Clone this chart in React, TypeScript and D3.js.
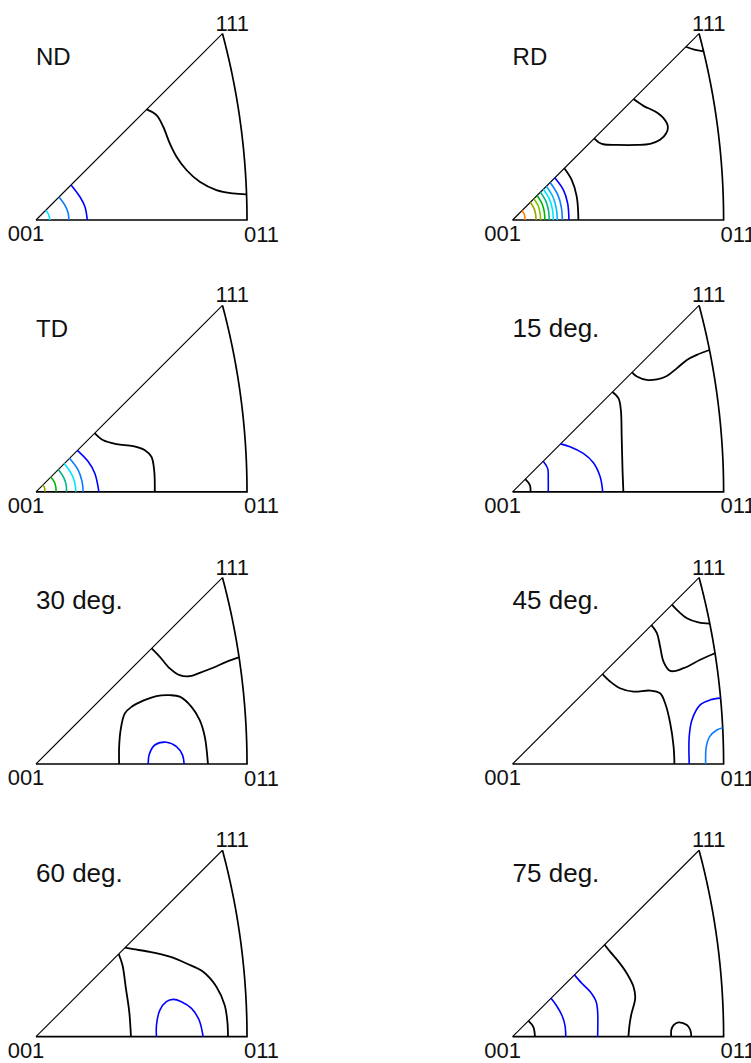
import React from "react";
import * as d3 from "d3";

// Inverse pole figures (cubic standard triangle, stereographic projection).
// Contour coordinates are given in the projection plane, in percent of the
// 001–011 distance (x toward 011, y toward 111).

type Pt = [number, number];
type Contour = { level: number; pts: Pt[] };

const panelTitles = ["ND", "RD", "TD", "15 deg.", "30 deg.", "45 deg.", "60 deg.", "75 deg."];
const poleLabels = ["001", "011", "111"];

// contour level colours, lowest level first
const levelColors = [
  "#000000",
  "#0000ff",
  "#0a7cff",
  "#00b4ff",
  "#00e6ff",
  "#00b48c",
  "#00b400",
  "#78c800",
  "#a0a000",
  "#ff8000",
];

const ndContours: Contour[] = [
  { level: 0, pts: [[52.4, 52.4], [57.1, 49.7], [60.3, 44.2], [63.4, 36.3], [66.6, 30.0], [71.3, 23.7], [77.6, 18.1], [85.5, 14.2], [93.4, 12.6], [99.8, 12.1]] },
  { level: 1, pts: [[16.6, 16.6], [20.8, 11.0], [23.2, 6.3], [24.3, 0]] },
  { level: 2, pts: [[10.9, 10.9], [14.0, 6.5], [15.3, 3.0], [15.6, 0]] },
  { level: 4, pts: [[4.7, 4.7], [6.0, 2.5], [6.6, 0]] },
];

const rdContours: Contour[] = [
  { level: 0, pts: [[82.1, 82.1], [86.1, 80.7], [90.5, 79.9]] },
  { level: 0, pts: [[57.3, 57.3], [62.0, 54.1], [67.6, 51.4], [71.5, 48.3], [73.6, 44.3], [72.8, 41.1], [69.9, 38.0], [65.2, 36.1], [58.9, 35.6], [49.4, 35.6], [43.0, 35.9], [40.7, 36.9], [38.7, 38.7]] },
  { level: 0, pts: [[24.5, 24.5], [28.0, 19.0], [30.4, 11.1], [31.2, 0]] },
  { level: 1, pts: [[20.0, 20.0], [24.1, 14.2], [26.1, 7.9], [26.7, 0]] },
  { level: 2, pts: [[17.8, 17.8], [21.4, 12.0], [23.1, 6.0], [23.6, 0]] },
  { level: 3, pts: [[16.0, 16.0], [19.2, 10.8], [20.7, 5.5], [21.2, 0]] },
  { level: 4, pts: [[14.6, 14.6], [17.5, 9.8], [18.9, 5.0], [19.3, 0]] },
  { level: 5, pts: [[13.2, 13.2], [15.8, 8.8], [17.0, 4.5], [17.4, 0]] },
  { level: 6, pts: [[11.6, 11.6], [13.9, 7.8], [15.0, 4.0], [15.3, 0]] },
  { level: 7, pts: [[10.1, 10.1], [12.1, 6.8], [13.0, 3.4], [13.3, 0]] },
  { level: 8, pts: [[8.4, 8.4], [10.1, 5.6], [10.9, 2.8], [11.1, 0]] },
  { level: 9, pts: [[4.5, 4.5], [5.4, 3.0], [5.8, 1.5], [5.9, 0]] },
];

const tdContours: Contour[] = [
  { level: 0, pts: [[27.8, 27.8], [31.9, 24.4], [38.2, 22.6], [46.1, 21.6], [51.6, 19.7], [54.7, 16.6], [56.0, 10.3], [56.3, 0]] },
  { level: 1, pts: [[19.6, 19.6], [24.8, 14.2], [27.9, 8.7], [29.8, 0]] },
  { level: 2, pts: [[15.9, 15.9], [20.0, 10.3], [21.8, 5.0], [22.4, 0]] },
  { level: 4, pts: [[13.4, 13.4], [16.8, 8.5], [18.4, 4.2], [18.9, 0]] },
  { level: 5, pts: [[10.6, 10.6], [13.2, 6.6], [14.3, 3.2], [14.5, 0]] },
  { level: 6, pts: [[7.0, 7.0], [8.8, 4.4], [9.4, 2.2], [9.5, 0]] },
  { level: 8, pts: [[3.2, 3.2], [4.0, 2.0], [4.3, 0]] },
];

const deg15Contours: Contour[] = [
  { level: 0, pts: [[56.6, 56.6], [58.9, 54.6], [63.6, 53.0], [68.4, 53.3], [73.1, 54.9], [77.8, 58.5], [82.6, 62.5], [87.3, 64.9], [93.3, 67.2]] },
  { level: 0, pts: [[47.3, 47.3], [50.2, 44.3], [51.3, 38.8], [51.7, 26.1], [52.1, 10.3], [52.5, 0]] },
  { level: 1, pts: [[22.7, 22.7], [27.2, 21.4], [33.5, 18.2], [38.3, 13.8], [41.5, 7.1], [42.7, 0]] },
  { level: 1, pts: [[14.5, 14.5], [16.6, 11.1], [16.9, 5.5], [16.9, 0]] },
  { level: 0, pts: [[6.0, 6.0], [8.2, 3.2], [8.5, 0]] },
];

const deg30Contours: Contour[] = [
  { level: 0, pts: [[54.8, 54.8], [58.7, 50.8], [63.4, 45.3], [68.1, 42.1], [72.9, 41.6], [77.6, 43.2], [83.9, 45.6], [90.2, 48.4], [96.2, 50.5]] },
  { level: 0, pts: [[39.4, 0], [39.4, 8.2], [40.1, 16.1], [42.1, 24.0], [45.3, 27.1], [50.8, 30.0], [57.1, 32.2], [63.4, 32.6], [68.1, 31.9], [73.7, 27.1], [77.6, 20.8], [80.0, 12.9], [81.5, 0]] },
  { level: 1, pts: [[53.2, 0], [53.6, 4.3], [56.3, 9.0], [61.8, 10.3], [66.6, 8.2], [69.4, 4.3], [70.2, 0]] },
];

const deg45Contours: Contour[] = [
  { level: 0, pts: [[75.5, 75.5], [78.6, 72.3], [82.6, 69.1], [88.1, 67.1], [93.5, 66.5]] },
  { level: 0, pts: [[65.8, 65.8], [68.4, 62.0], [69.9, 55.7], [71.5, 48.6], [74.7, 44.1], [81.0, 45.4], [88.9, 49.4], [95.9, 52.5]] },
  { level: 0, pts: [[42.6, 42.6], [46.2, 39.1], [50.9, 35.9], [57.3, 34.3], [65.2, 34.8], [69.9, 33.5], [72.3, 28.8], [74.7, 19.3], [76.3, 8.2], [76.7, 0]] },
  { level: 1, pts: [[83.7, 0], [83.7, 13.0], [85.0, 20.9], [88.9, 28.0], [93.7, 30.4], [98.6, 31.2]] },
  { level: 2, pts: [[91.5, 0], [91.8, 8.2], [93.4, 13.0], [96.8, 16.1], [99.6, 17.2]] },
];

const deg60Contours: Contour[] = [
  { level: 0, pts: [[39.2, 39.2], [41.0, 33.9], [42.6, 22.9], [44.2, 11.8], [45.0, 0]] },
  { level: 0, pts: [[42.2, 42.2], [46.1, 41.5], [53.9, 40.2], [63.4, 37.9], [71.3, 34.7], [79.2, 30.8], [85.5, 23.7], [89.4, 15.0], [90.7, 7.1], [91.0, 0]] },
  { level: 1, pts: [[57.1, 0], [57.1, 5.5], [58.7, 12.6], [61.8, 16.6], [65.0, 17.7], [68.9, 16.6], [73.7, 13.4], [77.3, 7.9], [79.2, 0]] },
];

const deg75Contours: Contour[] = [
  { level: 0, pts: [[43.6, 43.6], [46.2, 40.3], [50.2, 35.6], [54.1, 30.1], [57.3, 23.7], [58.1, 18.2], [56.2, 10.3], [55.4, 5.5], [54.9, 0]] },
  { level: 1, pts: [[29.3, 29.3], [32.8, 25.3], [36.7, 21.4], [39.6, 16.6], [40.3, 11.9], [40.3, 0]] },
  { level: 1, pts: [[18.2, 18.2], [20.6, 15.0], [23.3, 10.3], [24.8, 5.5], [25.2, 0]] },
  { level: 0, pts: [[7.5, 7.5], [9.8, 4.7], [10.6, 0]] },
  { level: 0, pts: [[75.2, 0], [75.2, 3.2], [76.3, 5.5], [78.6, 6.8], [82.6, 5.5], [84.2, 3.2], [84.7, 0]] },
];

const panelContours = [
  ndContours,
  rdContours,
  tdContours,
  deg15Contours,
  deg30Contours,
  deg45Contours,
  deg60Contours,
  deg75Contours,
];

// ---- layout ----
const W = 751;
const H = 1063;
const SIDE = 211; // pixel length of the 001–011 edge
const colX = [36, 512.6];
const rowY = [220, 491.8, 764, 1036.7];
const FONT = "'Liberation Sans', Arial, Helvetica, sans-serif";

// stereographic projection of a crystal direction, in percent of the 001–011 distance
const T = Math.tan(Math.PI / 8);
function stereo(a: number, b: number, c: number): Pt {
  const n = Math.hypot(a, b, c);
  const x = a / n, y = b / n, z = c / n;
  return [(x / (1 + z) / T) * 100, (y / (1 + z) / T) * 100];
}

// 001 -> 011 -> (great circle) -> 111
function outerEdgePoints(): Pt[] {
  const pts: Pt[] = [stereo(0, 0, 1)];
  const steps = 60;
  for (let i = 0; i <= steps; i++) {
    const t = i / steps;
    pts.push(stereo(1, t, 1));
  }
  return pts;
}

function Panel({ index }: { index: number }) {
  const col = index % 2;
  const row = Math.floor(index / 2);
  const x0 = colX[col];
  const y0 = rowY[row];
  const sx = d3.scaleLinear().domain([0, 100]).range([x0, x0 + SIDE]);
  const sy = d3.scaleLinear().domain([0, 100]).range([y0, y0 - SIDE]);

  const line = d3
    .line<Pt>()
    .x((d) => sx(d[0]))
    .y((d) => sy(d[1]));
  const smooth = d3
    .line<Pt>()
    .x((d) => sx(d[0]))
    .y((d) => sy(d[1]))
    .curve(d3.curveCatmullRom.alpha(0.5));

  const edge = outerEdgePoints();
  const p001 = stereo(0, 0, 1);
  const p111 = stereo(1, 1, 1);
  const p011 = stereo(1, 0, 1);

  return (
    <g>
      {/* triangle frame */}
      <path d={line([p001, p111]) ?? ""} fill="none" stroke="#000" strokeWidth={1.1} />
      <path d={line(edge) ?? ""} fill="none" stroke="#000" strokeWidth={1.7} strokeLinejoin="miter" />
      {/* contours */}
      {panelContours[index].map((c, i) => (
        <path
          key={i}
          d={smooth(c.pts) ?? ""}
          fill="none"
          stroke={levelColors[c.level]}
          strokeWidth={c.level === 0 ? 1.8 : 1.6}
          strokeLinejoin="round"
        />
      ))}
      {/* pole labels */}
      <text x={sx(0) - 10} y={y0 + 21} textAnchor="middle" fontSize={22} fontFamily={FONT} fill="#111">
        {poleLabels[0]}
      </text>
      <text x={sx(p011[0]) - 3} y={y0 + 21.5} textAnchor="start" fontSize={22} fontFamily={FONT} fill="#111">
        {poleLabels[1]}
      </text>
      <text x={sx(p111[0]) - 7} y={sy(p111[1]) - 3} textAnchor="start" fontSize={22} fontFamily={FONT} fill="#111">
        {poleLabels[2]}
      </text>
      {/* panel title */}
      <text x={x0} y={y0 - 155} fontSize={index < 3 ? 24 : 26} fontFamily={FONT} fill="#111">
        {panelTitles[index]}
      </text>
    </g>
  );
}

export default function App() {
  return (
    <svg
      width={W}
      height={H}
      viewBox={`0 0 ${W} ${H}`}
      style={{ position: "absolute", left: 0, top: 0, background: "#fff", display: "block" }}
    >
      <rect width={W} height={H} fill="#fff" />
      {panelTitles.map((_, i) => (
        <Panel key={i} index={i} />
      ))}
    </svg>
  );
}
